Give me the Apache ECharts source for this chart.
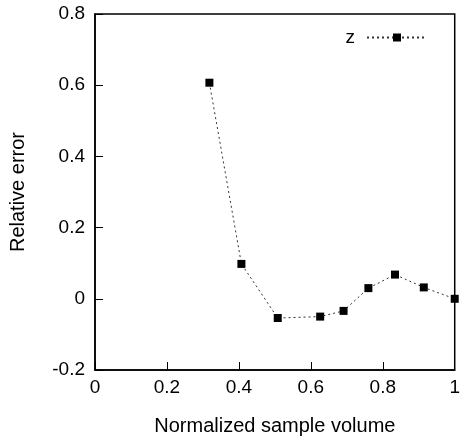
<!DOCTYPE html>
<html>
<head>
<meta charset="utf-8">
<script src="https://cdn.jsdelivr.net/npm/echarts@6/dist/echarts.min.js"></script>
<style>
html,body{margin:0;padding:0;background:#fff;}
#chart{width:463px;height:441px;}
</style>
</head>
<body>
<div id="chart"></div>
<script>
var seriesName = 'z';
var xValues = [0.318, 0.407, 0.508, 0.626, 0.691, 0.760, 0.834, 0.914, 1.0];
var yValues = [0.607, 0.098, -0.054, -0.050, -0.034, 0.030, 0.068, 0.032, 0.0];
var xAxisName = 'Normalized sample volume';
var yAxisName = 'Relative error';

var data = xValues.map(function (x, i) { return [x, yValues[i]]; });
var font = 'Liberation Sans, Arial, Helvetica, sans-serif';

var chart = echarts.init(document.getElementById('chart'), null, {renderer: 'canvas'});
chart.setOption({
  animation: false,
  backgroundColor: '#fff',
  grid: {left: 92, right: 7, top: 14, bottom: 64, show: true, borderColor: '#000', borderWidth: 1.5, containLabel: false},
  legend: {
    show: true,
    right: 30, top: 23,
    align: 'right',
    itemWidth: 60, itemHeight: 10,
    itemGap: 10,
    textStyle: {fontFamily: font, fontSize: 19, color: '#000', padding: [0, 7, 0, 0]},
    data: [seriesName]
  },
  xAxis: {
    type: 'value', min: 0, max: 1, interval: 0.2,
    name: xAxisName, nameLocation: 'middle', nameGap: 46,
    nameTextStyle: {fontFamily: font, fontSize: 20, color: '#000'},
    axisLine: {show: true, onZero: false, lineStyle: {color: '#000', width: 1.5}},
    axisTick: {show: true, inside: true, length: 8, lineStyle: {color: '#000', width: 1}},
    axisLabel: {fontFamily: font, fontSize: 19, color: '#000', margin: 8},
    splitLine: {show: false}
  },
  yAxis: {
    type: 'value', min: -0.2, max: 0.8, interval: 0.2,
    name: yAxisName, nameLocation: 'middle', nameGap: 67, nameRotate: 90,
    nameTextStyle: {fontFamily: font, fontSize: 20, color: '#000'},
    axisLine: {show: true, onZero: false, lineStyle: {color: '#000', width: 1.5}},
    axisTick: {show: true, inside: true, length: 8, lineStyle: {color: '#000', width: 1}},
    axisLabel: {fontFamily: font, fontSize: 19, color: '#000', margin: 10},
    splitLine: {show: false}
  },
  series: [{
    name: seriesName,
    type: 'line',
    data: data,
    symbol: 'rect',
    symbolSize: 8,
    itemStyle: {color: '#000'},
    lineStyle: {color: '#333', width: 1, type: [2, 3]},
    clip: false
  }]
});
</script>
</body>
</html>
